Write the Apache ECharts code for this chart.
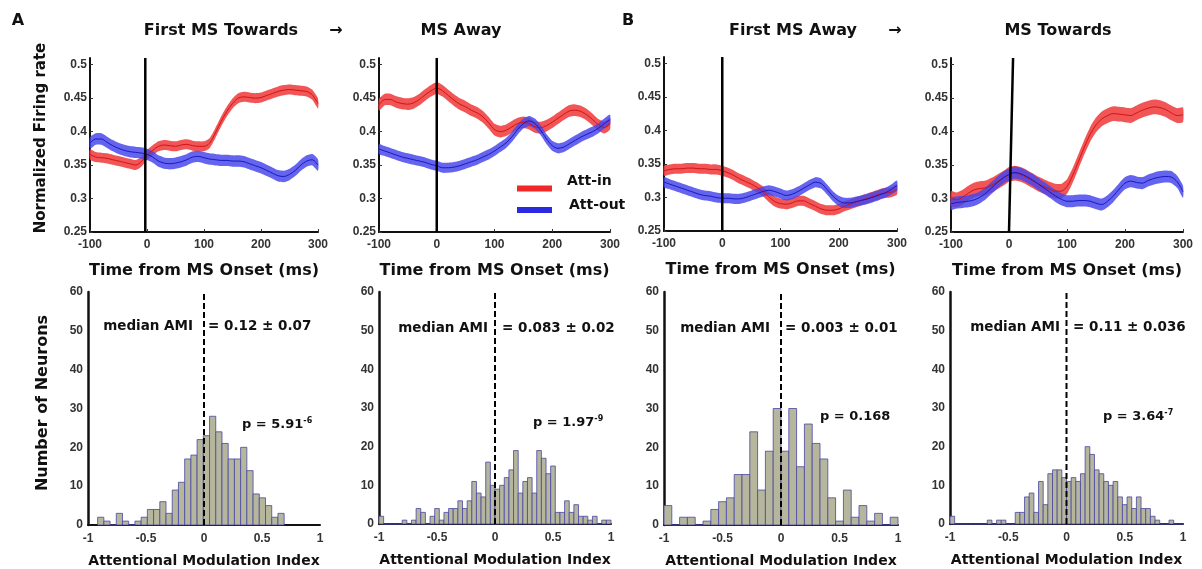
<!DOCTYPE html>
<html>
<head>
<meta charset="utf-8">
<title>MS direction and attention</title>
<script src="https://cdn.jsdelivr.net/npm/echarts/dist/echarts.min.js"></script>
<style>
  html, body { margin: 0; padding: 0; background: #fff; }
  #chart { width: 1202px; height: 569px; }
</style>
</head>
<body>
<div id="chart"></div>
<script>
// time axis of the PSTHs (ms from microsaccade onset)
const timeMs = [-100, -90, -80, -70, -60, -50, -40, -30, -20, -10, 0, 10, 20, 30, 40, 50, 60, 70, 80, 90, 100,
  110, 120, 130, 140, 150, 160, 170, 180, 190, 200, 210, 220, 230, 240, 250, 260, 270, 280, 290, 300]

// A: first MS towards -> MS away
const redA1 = [0.366, 0.362, 0.361, 0.360, 0.358, 0.356, 0.354, 0.352, 0.350, 0.355, 0.365, 0.372, 0.378, 0.380, 0.379, 0.378, 0.380, 0.381, 0.379, 0.378, 0.378,
  0.383, 0.398, 0.415, 0.430, 0.442, 0.450, 0.452, 0.451, 0.450, 0.451, 0.454, 0.457, 0.460, 0.462, 0.463, 0.462, 0.461, 0.460, 0.455, 0.442]
const blueA1 = [0.383, 0.389, 0.389, 0.384, 0.379, 0.375, 0.372, 0.370, 0.369, 0.368, 0.366, 0.362, 0.356, 0.353, 0.352, 0.353, 0.355, 0.358, 0.362, 0.363, 0.361,
  0.359, 0.358, 0.357, 0.357, 0.356, 0.356, 0.355, 0.352, 0.349, 0.346, 0.342, 0.338, 0.334, 0.333, 0.336, 0.342, 0.350, 0.356, 0.358, 0.350]
const redA2 = [0.440, 0.448, 0.448, 0.444, 0.442, 0.441, 0.443, 0.448, 0.455, 0.461, 0.465, 0.461, 0.454, 0.447, 0.441, 0.437, 0.432, 0.428, 0.422, 0.413, 0.403,
  0.400, 0.402, 0.407, 0.412, 0.414, 0.412, 0.407, 0.406, 0.409, 0.414, 0.420, 0.426, 0.431, 0.432, 0.430, 0.425, 0.418, 0.410, 0.406, 0.412]
const blueA2 = [0.374, 0.371, 0.368, 0.365, 0.362, 0.360, 0.358, 0.356, 0.354, 0.351, 0.349, 0.346, 0.346, 0.347, 0.349, 0.352, 0.355, 0.358, 0.362, 0.366, 0.371,
  0.377, 0.383, 0.392, 0.403, 0.412, 0.416, 0.412, 0.402, 0.389, 0.379, 0.375, 0.377, 0.382, 0.387, 0.392, 0.396, 0.400, 0.405, 0.412, 0.418]

// B: first MS away -> MS towards
const redB1 = [0.340, 0.342, 0.343, 0.343, 0.344, 0.344, 0.343, 0.343, 0.342, 0.342, 0.340, 0.337, 0.333, 0.328, 0.324, 0.320, 0.315, 0.309, 0.301, 0.294, 0.291,
  0.290, 0.292, 0.295, 0.295, 0.291, 0.287, 0.283, 0.281, 0.281, 0.283, 0.287, 0.290, 0.293, 0.296, 0.299, 0.302, 0.305, 0.307, 0.308, 0.312]
const blueB1 = [0.323, 0.320, 0.317, 0.314, 0.311, 0.308, 0.305, 0.303, 0.302, 0.300, 0.299, 0.299, 0.298, 0.298, 0.300, 0.303, 0.306, 0.309, 0.311, 0.309, 0.306,
  0.303, 0.305, 0.309, 0.314, 0.319, 0.323, 0.321, 0.312, 0.302, 0.295, 0.292, 0.292, 0.294, 0.296, 0.298, 0.301, 0.304, 0.307, 0.312, 0.318]
const redB2 = [0.300, 0.298, 0.302, 0.308, 0.313, 0.315, 0.316, 0.320, 0.325, 0.330, 0.336, 0.338, 0.336, 0.332, 0.327, 0.322, 0.318, 0.314, 0.311, 0.311, 0.318,
  0.335, 0.356, 0.377, 0.396, 0.410, 0.419, 0.424, 0.427, 0.426, 0.425, 0.424, 0.428, 0.432, 0.435, 0.437, 0.436, 0.433, 0.428, 0.424, 0.425]
const blueB2 = [0.292, 0.294, 0.295, 0.296, 0.298, 0.302, 0.308, 0.316, 0.324, 0.331, 0.336, 0.339, 0.337, 0.333, 0.328, 0.322, 0.316, 0.310, 0.304, 0.299, 0.296,
  0.296, 0.297, 0.297, 0.296, 0.293, 0.291, 0.296, 0.304, 0.314, 0.323, 0.326, 0.324, 0.323, 0.327, 0.330, 0.332, 0.333, 0.332, 0.325, 0.310]

// half width of the shaded error band, [att-in, att-out] per panel
const bandHalf = [[0.0075, 0.0085], [0.0087, 0.0075], [0.0075, 0.0075], [0.011, 0.009]]

// vertical onset line (ms) at the bottom and top of each PSTH panel
const onsetBottom = [-3, 0, 0, 0]
const onsetTop = [-3, 0, 0, 7]

// AMI histograms: first bin edge, bin width, counts
const binStart = [-0.917, -1, -1, -1]
const binWidth = [0.0536, 0.04, 0.06667, 0.04]
const countsA1 = [2, 1, 0, 3, 1, 0, 1, 2, 4, 4, 6, 3, 9, 11, 17, 18, 22, 23, 28, 24, 21, 17, 17, 20, 14, 8, 7, 5, 2, 3]
const countsA2 = [2, 0, 0, 0, 0, 1, 0, 1, 4, 3, 0, 2, 4, 1, 3, 4, 4, 6, 4, 6, 11, 8, 7, 16, 10, 9, 10, 12, 14, 19,
  8, 11, 12, 8, 19, 17, 13, 15, 3, 3, 6, 3, 5, 2, 2, 1, 2, 0, 1, 1]
const countsB1 = [5, 0, 2, 2, 0, 1, 4, 6, 7, 13, 13, 24, 9, 19, 30, 19, 30, 15, 26, 21, 17, 7, 1, 9, 2, 5, 1, 3, 0, 2]
const countsB2 = [2, 0, 0, 0, 0, 0, 0, 0, 1, 0, 1, 1, 0, 0, 3, 3, 7, 8, 3, 11, 5, 13, 14, 14, 12, 11, 12, 11, 13, 20,
  18, 14, 13, 11, 10, 11, 7, 5, 7, 4, 7, 4, 4, 2, 1, 0, 0, 1, 0, 0]

const medianText = ['= 0.12 ± 0.07', '= 0.083 ± 0.02', '= 0.003 ± 0.01', '= 0.11 ± 0.036']
const pValue = [['5.91', '-6'], ['1.97', '-9'], ['0.168', ''], ['3.64', '-7']]
const titles = ['First MS Towards', 'MS Away', 'First MS Away', 'MS Towards']

const psth = [[redA1, blueA1], [redA2, blueA2], [redB1, blueB1], [redB2, blueB2]]
const hists = [countsA1, countsA2, countsB1, countsB2]

const BOLD = 'DejaVu Sans'
const TICK = 'Liberation Sans'

const topGrids = [
  { left: 90, top: 58, width: 228, height: 174 },
  { left: 379, top: 58, width: 231, height: 174 },
  { left: 664, top: 57, width: 233, height: 174 },
  { left: 951, top: 58, width: 232, height: 174 }
]
const botGrids = [
  { left: 88, top: 292, width: 232, height: 234 },
  { left: 379, top: 292, width: 232, height: 232 },
  { left: 664, top: 292, width: 234, height: 233 },
  { left: 950, top: 292, width: 233, height: 232 }
]

const grid = []
const xAxis = []
const yAxis = []
const series = []

function axisLineStyle (w) {
  return { show: true, onZero: false, lineStyle: { color: '#111', width: w } }
}

// PSTH panels
topGrids.forEach((g, i) => {
  grid.push(g)
  xAxis.push({
    type: 'value', gridIndex: i, min: -100, max: 300, interval: 100,
    axisLine: axisLineStyle(2),
    axisTick: { inside: true, length: 3, lineStyle: { color: '#333' } },
    axisLabel: { color: '#333', fontFamily: TICK, fontWeight: 'bold', fontSize: 12, margin: 7 },
    splitLine: { show: false },
    name: 'Time from MS Onset (ms)', nameLocation: 'middle', nameGap: 31,
    nameTextStyle: { color: '#111', fontFamily: BOLD, fontWeight: 'bold', fontSize: 16 }
  })
  yAxis.push({
    type: 'value', gridIndex: i, min: 0.25, max: 0.51, interval: 0.05,
    axisLine: axisLineStyle(2),
    axisTick: { inside: true, length: 3, lineStyle: { color: '#333' } },
    axisLabel: { color: '#333', fontFamily: TICK, fontWeight: 'bold', fontSize: 12, margin: 3, showMaxLabel: false },
    splitLine: { show: false }
  })
  const cols = [['rgba(240,66,66,0.9)', '#d01414'], ['rgba(70,70,236,0.84)', '#1818c0']]
  psth[i].forEach((mean, k) => {
    const half = bandHalf[i][k]
    series.push({
      type: 'custom', xAxisIndex: i, yAxisIndex: i, silent: true, z: 2 + k,
      data: timeMs.map((t, j) => [t, mean[j] - half, mean[j] + half]),
      encode: { x: 0, y: [1, 2] },
      renderItem: (params, api) => {
        if (params.dataIndex !== 0) return null
        const up = timeMs.map((t, j) => api.coord([t, mean[j] + half]))
        const lo = timeMs.map((t, j) => api.coord([t, mean[j] - half])).reverse()
        return { type: 'polygon', shape: { points: up.concat(lo), smooth: 0.2 }, style: { fill: cols[k][0] } }
      }
    })
  })
  psth[i].forEach((mean, k) => {
    series.push({
      type: 'line', xAxisIndex: i, yAxisIndex: i, silent: true, z: 5,
      data: timeMs.map((t, j) => [t, mean[j]]),
      showSymbol: false, smooth: 0.3,
      lineStyle: { color: cols[k][1], width: 1 }
    })
  })
  series.push({
    type: 'line', xAxisIndex: i, yAxisIndex: i, silent: true, z: 6,
    data: [[onsetBottom[i], 0.25], [onsetTop[i], 0.51]],
    showSymbol: false, lineStyle: { color: '#000', width: 2.5 }
  })
})

// AMI histograms
botGrids.forEach((g, n) => {
  const i = n + 4
  grid.push(g)
  xAxis.push({
    type: 'value', gridIndex: i, min: -1, max: 1, interval: 0.5,
    axisLine: axisLineStyle(2),
    axisTick: { show: false },
    axisLabel: { color: '#333', fontFamily: TICK, fontWeight: 'bold', fontSize: 12, margin: 8 },
    splitLine: { show: false },
    name: 'Attentional Modulation Index', nameLocation: 'middle', nameGap: 29,
    nameTextStyle: { color: '#111', fontFamily: BOLD, fontWeight: 'bold', fontSize: 14 }
  })
  yAxis.push({
    type: 'value', gridIndex: i, min: 0, max: 60, interval: 10,
    axisLine: axisLineStyle(2.5),
    axisTick: { show: false },
    axisLabel: { color: '#333', fontFamily: TICK, fontWeight: 'bold', fontSize: 12, margin: 5 },
    splitLine: { show: false }
  })
  const counts = hists[n]
  series.push({
    type: 'custom', xAxisIndex: i, yAxisIndex: i, silent: true, z: 3,
    data: counts.map((c, j) => [binStart[n] + j * binWidth[n], binStart[n] + (j + 1) * binWidth[n], c]),
    encode: { x: [0, 1], y: 2 },
    renderItem: (params, api) => {
      const a = api.coord([api.value(0), api.value(2)])
      const b = api.coord([api.value(1), 0])
      return {
        type: 'rect',
        shape: { x: a[0], y: a[1], width: b[0] - a[0], height: b[1] - a[1] },
        style: { fill: '#b6b69c', stroke: '#4646a6', lineWidth: 0.8 }
      }
    }
  })
  series.push({
    type: 'line', xAxisIndex: i, yAxisIndex: i, silent: true, z: 6,
    data: [[0, 0], [0, 60]],
    showSymbol: false, lineStyle: { color: '#000', width: 2, type: [6, 3] }
  })
})

function txt (text, x, y, size, align, extra) {
  return Object.assign({
    type: 'text', x, y, silent: true,
    style: { text, fill: '#111', font: 'bold ' + size + 'px "' + BOLD + '"', textAlign: align || 'center', textVerticalAlign: 'middle' }
  }, extra || {})
}

const graphic = [
  txt('A', 18, 21, 16),
  txt('B', 628, 21, 16),
  txt(titles[0], 221, 31, 16),
  txt('→', 336, 31, 16),
  txt(titles[1], 461, 31, 16),
  txt(titles[2], 793, 31, 16),
  txt('→', 895, 31, 16),
  txt(titles[3], 1058, 31, 16),
  txt('Normalized Firing rate', 41, 138, 15, 'center', { rotation: Math.PI / 2 }),
  txt('Number of Neurons', 43, 403, 16, 'center', { rotation: Math.PI / 2 }),
  // legend
  { type: 'line', silent: true, shape: { x1: 517, y1: 188.5, x2: 552, y2: 188.5 }, style: { stroke: '#f02828', lineWidth: 6 } },
  { type: 'line', silent: true, shape: { x1: 517, y1: 210, x2: 552, y2: 210 }, style: { stroke: '#2a2ae0', lineWidth: 6 } },
  txt('Att-in', 567, 181, 14, 'left'),
  txt('Att-out', 569, 205, 14, 'left')
]

const medPos = [[193, 208, 326.5], [488, 502, 328], [770, 785, 328], [1060, 1073, 327]]
const pPos = [[242, 425], [533, 423], [820, 417], [1103, 417]]
medPos.forEach((p, n) => {
  graphic.push(txt('median AMI', p[0], p[2], 13.5, 'right'))
  graphic.push(txt(medianText[n], p[1], p[2], 13.5, 'left'))
  graphic.push({
    type: 'text', x: pPos[n][0], y: pPos[n][1], silent: true,
    style: {
      text: '{m|p = ' + pValue[n][0] + '}' + (pValue[n][1] ? '{s|' + pValue[n][1] + '}' : ''),
      textAlign: 'left', textVerticalAlign: 'middle',
      rich: {
        m: { fontFamily: BOLD, fontWeight: 'bold', fontSize: 13, fill: '#111', lineHeight: 16 },
        s: { fontFamily: BOLD, fontWeight: 'bold', fontSize: 8, fill: '#111', verticalAlign: 'top', lineHeight: 16 }
      }
    }
  })
})

const option = {
  backgroundColor: '#fff',
  animation: false,
  grid,
  xAxis,
  yAxis,
  series,
  graphic
}

const myChart = echarts.init(document.getElementById('chart'))
myChart.setOption(option)
</script>
</body>
</html>
